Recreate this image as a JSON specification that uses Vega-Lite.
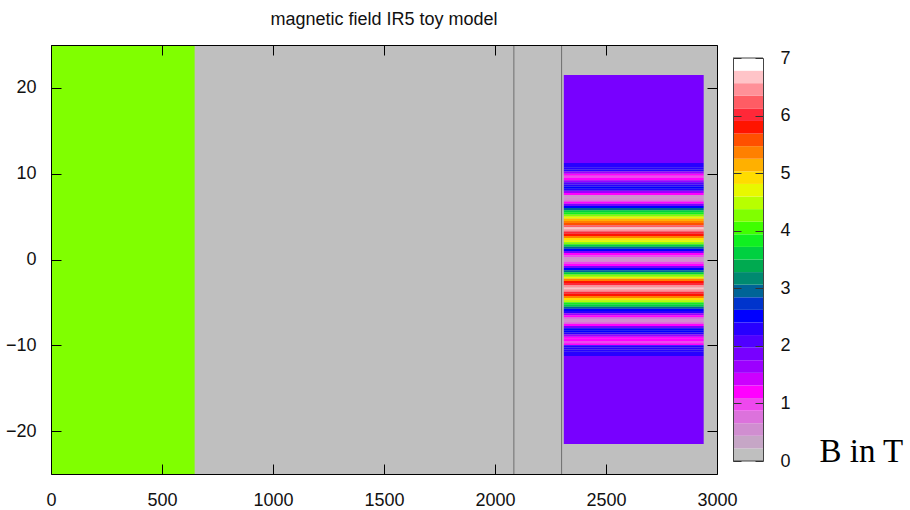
{
  "$schema": "https://vega.github.io/schema/vega-lite/v6.json",
  "padding": {"left": 5, "top": 10, "right": 0, "bottom": 0},
  "background": "white",
  "spacing": 16,
  "bounds": "flush",
  "config": {
    "font": "Liberation Sans",
    "view": {"stroke": null},
    "axis": {"labelFont": "Liberation Sans", "labelFontSize": 18, "labelColor": "#111", "tickColor": "#000", "tickWidth": 1, "domain": true, "domainColor": "#000", "domainWidth": 1, "grid": false, "labelFlush": false, "zindex": 3, "title": null}
  },
  "datasets": {
    "cells": [
      {"x1": 0, "x2": 647, "y1": -25, "y2": 25, "B": 4.3},
      {"x1": 2310, "x2": 2940, "y1": 11.25, "y2": 21.5, "B": 1.86},
      {"x1": 2310, "x2": 2940, "y1": 11, "y2": 11.25, "B": 2.3},
      {"x1": 2310, "x2": 2940, "y1": 10.75, "y2": 11, "B": 2.3},
      {"x1": 2310, "x2": 2940, "y1": 10.5, "y2": 10.75, "B": 2.3},
      {"x1": 2310, "x2": 2940, "y1": 10.25, "y2": 10.5, "B": 2.3},
      {"x1": 2310, "x2": 2940, "y1": 10, "y2": 10.25, "B": 1.6},
      {"x1": 2310, "x2": 2940, "y1": 9.75, "y2": 10, "B": 1.1},
      {"x1": 2310, "x2": 2940, "y1": 9.5, "y2": 9.75, "B": 1.0},
      {"x1": 2310, "x2": 2940, "y1": 9.25, "y2": 9.5, "B": 1.2},
      {"x1": 2310, "x2": 2940, "y1": 9, "y2": 9.25, "B": 1.6},
      {"x1": 2310, "x2": 2940, "y1": 8.75, "y2": 9, "B": 2.0},
      {"x1": 2310, "x2": 2940, "y1": 8.5, "y2": 8.75, "B": 2.4},
      {"x1": 2310, "x2": 2940, "y1": 8.25, "y2": 8.5, "B": 2.5},
      {"x1": 2310, "x2": 2940, "y1": 8, "y2": 8.25, "B": 2.3},
      {"x1": 2310, "x2": 2940, "y1": 7.75, "y2": 8, "B": 1.6},
      {"x1": 2310, "x2": 2940, "y1": 7.5, "y2": 7.75, "B": 1.1},
      {"x1": 2310, "x2": 2940, "y1": 7.25, "y2": 7.5, "B": 0.6},
      {"x1": 2310, "x2": 2940, "y1": 7, "y2": 7.25, "B": 0.45},
      {"x1": 2310, "x2": 2940, "y1": 6.75, "y2": 7, "B": 0.8},
      {"x1": 2310, "x2": 2940, "y1": 6.5, "y2": 6.75, "B": 1.15},
      {"x1": 2310, "x2": 2940, "y1": 6.25, "y2": 6.5, "B": 1.8},
      {"x1": 2310, "x2": 2940, "y1": 6, "y2": 6.25, "B": 2.5},
      {"x1": 2310, "x2": 2940, "y1": 5.75, "y2": 6, "B": 3.0},
      {"x1": 2310, "x2": 2940, "y1": 5.5, "y2": 5.75, "B": 3.5},
      {"x1": 2310, "x2": 2940, "y1": 5.25, "y2": 5.5, "B": 3.9},
      {"x1": 2310, "x2": 2940, "y1": 5, "y2": 5.25, "B": 4.3},
      {"x1": 2310, "x2": 2940, "y1": 4.75, "y2": 5, "B": 4.8},
      {"x1": 2310, "x2": 2940, "y1": 4.5, "y2": 4.75, "B": 5.1},
      {"x1": 2310, "x2": 2940, "y1": 4.25, "y2": 4.5, "B": 5.4},
      {"x1": 2310, "x2": 2940, "y1": 4, "y2": 4.25, "B": 5.6},
      {"x1": 2310, "x2": 2940, "y1": 3.75, "y2": 4, "B": 6.2},
      {"x1": 2310, "x2": 2940, "y1": 3.5, "y2": 3.75, "B": 6.7},
      {"x1": 2310, "x2": 2940, "y1": 3.25, "y2": 3.5, "B": 6.4},
      {"x1": 2310, "x2": 2940, "y1": 3, "y2": 3.25, "B": 6.0},
      {"x1": 2310, "x2": 2940, "y1": 2.75, "y2": 3, "B": 5.8},
      {"x1": 2310, "x2": 2940, "y1": 2.5, "y2": 2.75, "B": 5.3},
      {"x1": 2310, "x2": 2940, "y1": 2.25, "y2": 2.5, "B": 5.0},
      {"x1": 2310, "x2": 2940, "y1": 2, "y2": 2.25, "B": 4.7},
      {"x1": 2310, "x2": 2940, "y1": 1.75, "y2": 2, "B": 4.2},
      {"x1": 2310, "x2": 2940, "y1": 1.5, "y2": 1.75, "B": 3.6},
      {"x1": 2310, "x2": 2940, "y1": 1.25, "y2": 1.5, "B": 3.0},
      {"x1": 2310, "x2": 2940, "y1": 1, "y2": 1.25, "B": 2.5},
      {"x1": 2310, "x2": 2940, "y1": 0.75, "y2": 1, "B": 1.8},
      {"x1": 2310, "x2": 2940, "y1": 0.5, "y2": 0.75, "B": 1.15},
      {"x1": 2310, "x2": 2940, "y1": 0.25, "y2": 0.5, "B": 0.9},
      {"x1": 2310, "x2": 2940, "y1": 0, "y2": 0.25, "B": 0.5},
      {"x1": 2310, "x2": 2940, "y1": -0.25, "y2": 0, "B": 0.45},
      {"x1": 2310, "x2": 2940, "y1": -0.5, "y2": -0.25, "B": 0.9},
      {"x1": 2310, "x2": 2940, "y1": -0.75, "y2": -0.5, "B": 1.15},
      {"x1": 2310, "x2": 2940, "y1": -1, "y2": -0.75, "B": 1.8},
      {"x1": 2310, "x2": 2940, "y1": -1.25, "y2": -1, "B": 2.5},
      {"x1": 2310, "x2": 2940, "y1": -1.5, "y2": -1.25, "B": 2.9},
      {"x1": 2310, "x2": 2940, "y1": -1.75, "y2": -1.5, "B": 3.6},
      {"x1": 2310, "x2": 2940, "y1": -2, "y2": -1.75, "B": 4.3},
      {"x1": 2310, "x2": 2940, "y1": -2.25, "y2": -2, "B": 4.8},
      {"x1": 2310, "x2": 2940, "y1": -2.5, "y2": -2.25, "B": 5.3},
      {"x1": 2310, "x2": 2940, "y1": -2.75, "y2": -2.5, "B": 5.8},
      {"x1": 2310, "x2": 2940, "y1": -3, "y2": -2.75, "B": 6.0},
      {"x1": 2310, "x2": 2940, "y1": -3.25, "y2": -3, "B": 6.4},
      {"x1": 2310, "x2": 2940, "y1": -3.5, "y2": -3.25, "B": 6.7},
      {"x1": 2310, "x2": 2940, "y1": -3.75, "y2": -3.5, "B": 6.5},
      {"x1": 2310, "x2": 2940, "y1": -4, "y2": -3.75, "B": 6.0},
      {"x1": 2310, "x2": 2940, "y1": -4.25, "y2": -4, "B": 5.8},
      {"x1": 2310, "x2": 2940, "y1": -4.5, "y2": -4.25, "B": 5.4},
      {"x1": 2310, "x2": 2940, "y1": -4.75, "y2": -4.5, "B": 5.0},
      {"x1": 2310, "x2": 2940, "y1": -5, "y2": -4.75, "B": 4.5},
      {"x1": 2310, "x2": 2940, "y1": -5.25, "y2": -5, "B": 3.9},
      {"x1": 2310, "x2": 2940, "y1": -5.5, "y2": -5.25, "B": 3.5},
      {"x1": 2310, "x2": 2940, "y1": -5.75, "y2": -5.5, "B": 3.0},
      {"x1": 2310, "x2": 2940, "y1": -6, "y2": -5.75, "B": 2.5},
      {"x1": 2310, "x2": 2940, "y1": -6.25, "y2": -6, "B": 2.4},
      {"x1": 2310, "x2": 2940, "y1": -6.5, "y2": -6.25, "B": 1.6},
      {"x1": 2310, "x2": 2940, "y1": -6.75, "y2": -6.5, "B": 1.1},
      {"x1": 2310, "x2": 2940, "y1": -7, "y2": -6.75, "B": 0.7},
      {"x1": 2310, "x2": 2940, "y1": -7.25, "y2": -7, "B": 0.45},
      {"x1": 2310, "x2": 2940, "y1": -7.5, "y2": -7.25, "B": 0.8},
      {"x1": 2310, "x2": 2940, "y1": -7.75, "y2": -7.5, "B": 1.15},
      {"x1": 2310, "x2": 2940, "y1": -8, "y2": -7.75, "B": 1.8},
      {"x1": 2310, "x2": 2940, "y1": -8.25, "y2": -8, "B": 2.5},
      {"x1": 2310, "x2": 2940, "y1": -8.5, "y2": -8.25, "B": 2.5},
      {"x1": 2310, "x2": 2940, "y1": -8.75, "y2": -8.5, "B": 2.3},
      {"x1": 2310, "x2": 2940, "y1": -9, "y2": -8.75, "B": 1.6},
      {"x1": 2310, "x2": 2940, "y1": -9.25, "y2": -9, "B": 1.3},
      {"x1": 2310, "x2": 2940, "y1": -9.5, "y2": -9.25, "B": 1.1},
      {"x1": 2310, "x2": 2940, "y1": -9.75, "y2": -9.5, "B": 1.0},
      {"x1": 2310, "x2": 2940, "y1": -10, "y2": -9.75, "B": 1.2},
      {"x1": 2310, "x2": 2940, "y1": -10.25, "y2": -10, "B": 2.2},
      {"x1": 2310, "x2": 2940, "y1": -10.5, "y2": -10.25, "B": 2.3},
      {"x1": 2310, "x2": 2940, "y1": -10.75, "y2": -10.5, "B": 2.3},
      {"x1": 2310, "x2": 2940, "y1": -11, "y2": -10.75, "B": 2.3},
      {"x1": 2310, "x2": 2940, "y1": -11.25, "y2": -11, "B": 2.3},
      {"x1": 2310, "x2": 2940, "y1": -21.5, "y2": -11.25, "B": 1.86}
    ],
    "lines": [{"x": 2085}, {"x": 2300}],
    "ends": [{"v": 0}, {"v": 7}],
    "bar": [
      {"lo": 0, "hi": 0.21875}, {"lo": 0.21875, "hi": 0.4375}, {"lo": 0.4375, "hi": 0.65625}, {"lo": 0.65625, "hi": 0.875},
      {"lo": 0.875, "hi": 1.09375}, {"lo": 1.09375, "hi": 1.3125}, {"lo": 1.3125, "hi": 1.53125}, {"lo": 1.53125, "hi": 1.75},
      {"lo": 1.75, "hi": 1.96875}, {"lo": 1.96875, "hi": 2.1875}, {"lo": 2.1875, "hi": 2.40625}, {"lo": 2.40625, "hi": 2.625},
      {"lo": 2.625, "hi": 2.84375}, {"lo": 2.84375, "hi": 3.0625}, {"lo": 3.0625, "hi": 3.28125}, {"lo": 3.28125, "hi": 3.5},
      {"lo": 3.5, "hi": 3.71875}, {"lo": 3.71875, "hi": 3.9375}, {"lo": 3.9375, "hi": 4.15625}, {"lo": 4.15625, "hi": 4.375},
      {"lo": 4.375, "hi": 4.59375}, {"lo": 4.59375, "hi": 4.8125}, {"lo": 4.8125, "hi": 5.03125}, {"lo": 5.03125, "hi": 5.25},
      {"lo": 5.25, "hi": 5.46875}, {"lo": 5.46875, "hi": 5.6875}, {"lo": 5.6875, "hi": 5.90625}, {"lo": 5.90625, "hi": 6.125},
      {"lo": 6.125, "hi": 6.34375}, {"lo": 6.34375, "hi": 6.5625}, {"lo": 6.5625, "hi": 6.78125}, {"lo": 6.78125, "hi": 7}
    ]
  },
  "hconcat": [
    {
      "width": 666,
      "height": 429,
      "view": {"fill": "#BFBFBF", "stroke": null},
      "title": {"text": "magnetic field IR5 toy model", "fontSize": 18, "fontWeight": "normal", "font": "Liberation Sans", "color": "#111", "anchor": "middle", "frame": "group", "offset": 2, "baseline": "alphabetic"},
      "layer": [
        {
          "data": {"name": "cells"},
          "mark": {"type": "rect", "strokeWidth": 0},
          "encoding": {
            "x": {"field": "x1", "type": "quantitative", "scale": {"domain": [0, 3000], "nice": false, "zero": false},
                  "axis": {"orient": "bottom", "values": [0, 500, 1000, 1500, 2000, 2500, 3000], "format": "d", "tickSize": -10, "labelPadding": 27, "zindex": 3}},
            "x2": {"field": "x2"},
            "y": {"field": "y1", "type": "quantitative", "scale": {"domain": [-25, 25], "nice": false, "zero": false},
                  "axis": {"orient": "left", "values": [-20, -10, 0, 10, 20], "format": "d", "tickSize": -10, "labelPadding": 25, "zindex": 3}},
            "y2": {"field": "y2"},
            "color": {"field": "B", "type": "quantitative",
                      "scale": {"type": "threshold",
                                "domain": [0.21875, 0.4375, 0.65625, 0.875, 1.09375, 1.3125, 1.53125, 1.75, 1.96875, 2.1875, 2.40625, 2.625, 2.84375, 3.0625, 3.28125, 3.5, 3.71875, 3.9375, 4.15625, 4.375, 4.59375, 4.8125, 5.03125, 5.25, 5.46875, 5.6875, 5.90625, 6.125, 6.34375, 6.5625, 6.78125],
                                "range": ["#BFBFBF", "#C6A6C6", "#D08ED0", "#DC72DC", "#EE48EE", "#FF00FF", "#CC00FF", "#9C00FF", "#7800FF", "#5000FF", "#2800FF", "#0000FF", "#0034CC", "#006496", "#008A70", "#00AA50", "#00D040", "#10F020", "#40FF00", "#80FF00", "#B8FF00", "#E8F800", "#FFDC00", "#FFB000", "#FF8000", "#FF5000", "#FF1400", "#FF2838", "#FF5C64", "#FF9098", "#FFC4C8", "#FFFFFF"]},
                      "legend": null}
          }
        },
        {
          "data": {"name": "lines"},
          "mark": {"type": "rule", "color": "#6E6E6E", "strokeWidth": 1},
          "encoding": {
            "x": {"field": "x", "type": "quantitative", "axis": {"orient": "top", "values": [0, 500, 1000, 1500, 2000, 2500, 3000], "labels": false, "tickSize": -10, "zindex": 3}},
            "y": {"datum": -25, "type": "quantitative", "axis": {"orient": "right", "values": [-20, -10, 0, 10, 20], "labels": false, "tickSize": -10, "zindex": 3}},
            "y2": {"datum": 25}
          }
        }
      ],
      "resolve": {"axis": {"x": "independent", "y": "independent"}}
    },
    {
      "width": 30,
      "height": 429,
      "view": {"stroke": null},
      "layer": [
        {
          "data": {"name": "bar"},
          "mark": {"type": "rect", "strokeWidth": 0},
          "encoding": {
            "x": {"datum": 0, "type": "quantitative", "scale": {"domain": [0, 1], "nice": false}, "axis": null},
            "x2": {"datum": 1},
            "y": {"field": "lo", "type": "quantitative", "scale": {"domain": [0, 7], "nice": false, "range": [416, 13]},
                  "axis": {"orient": "right", "values": [0, 1, 2, 3, 4, 5, 6, 7], "tickSize": -8, "tickColor": "#333", "domainColor": "#444", "labelPadding": 25, "zindex": 3,
                           "title": "B in T", "titleAngle": 0, "titleFont": "Liberation Serif", "titleFontSize": 33, "titleFontWeight": "normal",
                           "titleAlign": "left", "titleBaseline": "alphabetic", "titleX": 56, "titleY": 416, "titleColor": "#000"}},
            "y2": {"field": "hi"},
            "color": {"field": "lo", "type": "quantitative",
                      "scale": {"type": "threshold",
                                "domain": [0.21875, 0.4375, 0.65625, 0.875, 1.09375, 1.3125, 1.53125, 1.75, 1.96875, 2.1875, 2.40625, 2.625, 2.84375, 3.0625, 3.28125, 3.5, 3.71875, 3.9375, 4.15625, 4.375, 4.59375, 4.8125, 5.03125, 5.25, 5.46875, 5.6875, 5.90625, 6.125, 6.34375, 6.5625, 6.78125],
                                "range": ["#BFBFBF", "#C6A6C6", "#D08ED0", "#DC72DC", "#EE48EE", "#FF00FF", "#CC00FF", "#9C00FF", "#7800FF", "#5000FF", "#2800FF", "#0000FF", "#0034CC", "#006496", "#008A70", "#00AA50", "#00D040", "#10F020", "#40FF00", "#80FF00", "#B8FF00", "#E8F800", "#FFDC00", "#FFB000", "#FF8000", "#FF5000", "#FF1400", "#FF2838", "#FF5C64", "#FF9098", "#FFC4C8", "#FFFFFF"]},
                      "legend": null}
          }
        },
        {
          "data": {"name": "ends"},
          "mark": {"type": "rule", "color": "#444", "strokeWidth": 1},
          "encoding": {
            "x": {"datum": 0, "type": "quantitative", "axis": null},
            "x2": {"datum": 1},
            "y": {"field": "v", "type": "quantitative", "axis": {"orient": "left", "values": [0, 1, 2, 3, 4, 5, 6, 7], "tickSize": -8, "tickColor": "#333", "domainColor": "#444", "labels": false, "zindex": 3}}
          }
        }
      ],
      "resolve": {"axis": {"y": "independent"}}
    }
  ]
}
